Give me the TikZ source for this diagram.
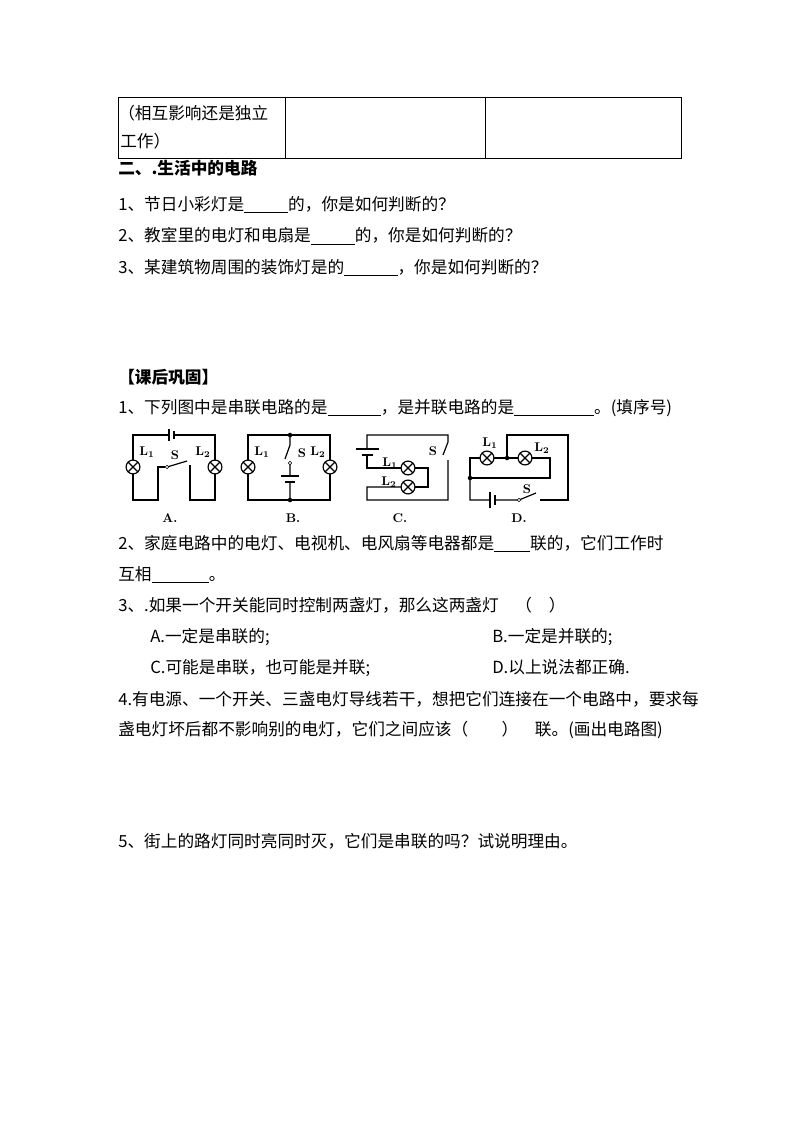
\documentclass[tikz,border=0pt]{standalone}
\usepackage{fontspec}
\newfontfamily\cjk{Noto Sans CJK SC}
\begin{document}
\begin{tikzpicture}[x=0.75pt,y=-0.75pt,
  t/.style={anchor=base west,inner sep=0,font=\cjk\fontsize{12.5pt}{14pt}\selectfont},
  tb/.style={t,font=\cjk\bfseries\fontsize{12.5pt}{14pt}\selectfont},
  lab/.style={inner sep=0,font=\bfseries\fontsize{9.5pt}{10pt}\selectfont},
  w/.style={line width=0.9pt},
  lamp/.pic={\draw[w,fill=white] (0,0) circle[radius=5.2pt]; \draw[w] (-4.9,-4.9)--(4.9,4.9) (-4.9,4.9)--(4.9,-4.9);},
  dot/.style={fill,circle,inner sep=1.2pt}]
\useasboundingbox (0,0) rectangle (794,1123);
\newcommand{\bl}[1]{\rule[-2pt]{#1pt}{0.5pt}}
% table
\draw[line width=0.7pt] (118,97) -- (681,97) -- (681,158) -- (118,158) -- cycle (285,97)--(285,158) (485,97)--(485,158);
\node[t] at (118,120) {（相互影响还是独立};
\node[t] at (120,148) {工作）};
\node[tb] at (118,175) {二、.生活中的电路};
\node[t] at (118,210) {1、节日小彩灯是\bl{33}的，你是如何判断的？};
\node[t] at (118,242) {2、教室里的电灯和电扇是\bl{33}的，你是如何判断的？};
\node[t] at (118,273) {3、某建筑物周围的装饰灯是的\bl{40}，你是如何判断的？};
\node[tb] at (118,383) {【课后巩固】};
\node[t] at (118,413) {1、下列图中是串联电路的是\bl{40}，是并联电路的是\bl{60}。(填序号)};
% circuit A
\draw[w] (133,467) -- (133,435) -- (169,435) (175,435) -- (215,435) -- (215,467);
\draw[w] (169,429)--(169,441); \draw[line width=2pt] (174,431)--(174,439);
\draw[w] (133,467) -- (133,500) -- (158,500) -- (158,467) -- (165,467);
\draw[w] (167,467) -- (187,461);
\draw[w] (190,465) -- (190,500) -- (215,500) -- (215,467);
\draw[fill=white] (167,467) circle[radius=1.3pt];
\pic at (133,467) {lamp}; \pic at (215,467) {lamp};
\node[lab] at (147,452) {L\textsubscript{1}};
\node[lab] at (175,455) {S};
\node[lab] at (203,452) {L\textsubscript{2}};
\node[lab] at (170,518) {A.};
% circuit B
\draw[w] (248,467) -- (248,435) -- (330,435) -- (330,500) -- (248,500) -- cycle;
\draw[w] (290,435) -- (290,445) -- (285,459) (290,463) -- (290,476) (290,483) -- (290,500);
\draw[w] (281,476)--(299,476); \draw[line width=2pt] (285,482)--(295,482);
\draw[fill=white] (290,463) circle[radius=1.3pt];
\node[dot] at (290,435) {}; \node[dot] at (290,500) {};
\pic at (248,467) {lamp}; \pic at (330,467) {lamp};
\node[lab] at (262,452) {L\textsubscript{1}};
\node[lab] at (302,453) {S};
\node[lab] at (318,452) {L\textsubscript{2}};
\node[lab] at (293,518) {B.};
% circuit C
\draw[w] (367,449) -- (367,435) -- (448,435) -- (448,442) -- (443,455) (448,460) -- (448,500) -- (367,500) -- (367,487) -- (408,487);
\draw[w] (356,449)--(379,449); \draw[line width=2pt] (362,455)--(373,455);
\draw[w] (367,455) -- (367,468) -- (408,468) -- (428,468) -- (428,487) -- (408,487);
\pic at (408,468) {lamp}; \pic at (408,487) {lamp};
\node[lab] at (390,463) {L\textsubscript{1}};
\node[lab] at (389,482) {L\textsubscript{2}};
\node[lab] at (433,451) {S};
\node[lab] at (400,518) {C.};
% circuit D
\draw[w] (470,478) -- (470,458) -- (525,458) -- (550,458) -- (550,478) -- (470,478);
\draw[w] (507,458) -- (507,435) -- (568,435) -- (568,500) -- (540,500);
\draw[w] (536,493) -- (519,500) -- (496,500) (490,500) -- (470,500) -- (470,478);
\draw[w] (490,492)--(490,508); \draw[line width=2pt] (495,495)--(495,505);
\draw[fill=white] (519,500) circle[radius=1.3pt];
\node[dot] at (507,458) {}; \node[dot] at (470,478) {};
\pic at (487,458) {lamp}; \pic at (525,458) {lamp};
\node[lab] at (490,443) {L\textsubscript{1}};
\node[lab] at (542,448) {L\textsubscript{2}};
\node[lab] at (527,489) {S};
\node[lab] at (519,518) {D.};
% questions
\node[t] at (118,549) {2、家庭电路中的电灯、电视机、电风扇等电器都是\bl{27}联的，它们工作时};
\node[t] at (118,580) {互相\bl{43}。};
\node[t] at (118,611) {3、.如果一个开关能同时控制两盏灯，那么这两盏灯\quad （\quad ）};
\node[t] at (150,642) {A.一定是串联的;};
\node[t] at (492,642) {B.一定是并联的;};
\node[t] at (150,673) {C.可能是串联，也可能是并联;};
\node[t] at (492,673) {D.以上说法都正确.};
\node[t] at (118,705) {4.有电源、一个开关、三盏电灯导线若干，想把它们连接在一个电路中，要求每};
\node[t] at (118,735) {盏电灯坏后都不影响别的电灯，它们之间应该（\qquad ）\quad 联。(画出电路图)};
\node[t] at (118,847) {5、街上的路灯同时亮同时灭，它们是串联的吗？试说明理由。};
\end{tikzpicture}
\end{document}
